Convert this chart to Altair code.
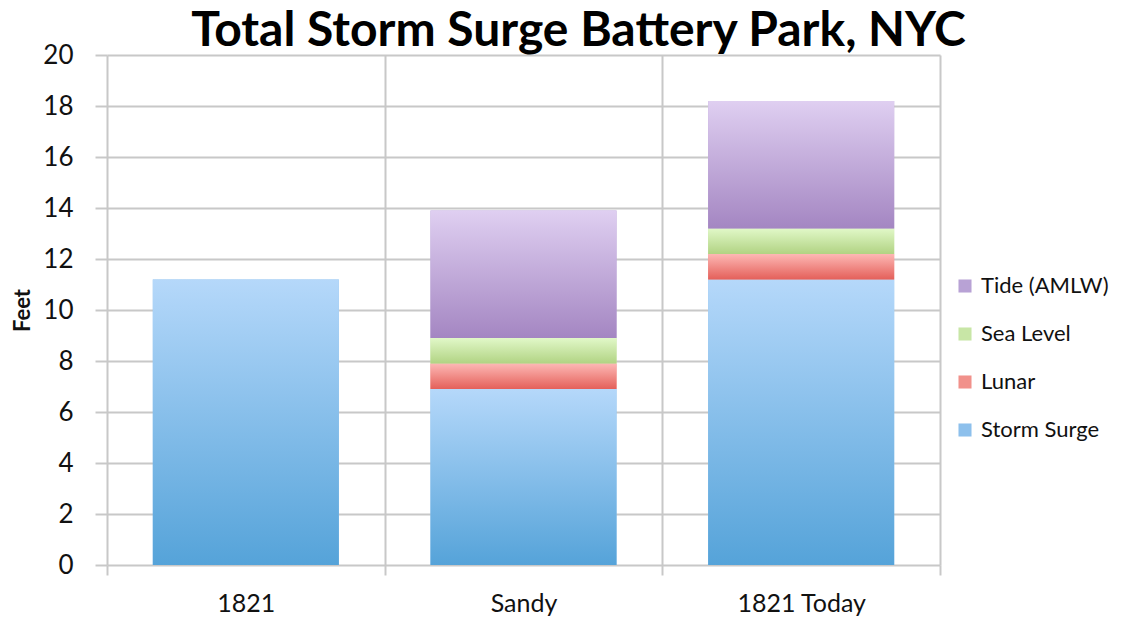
import altair as alt
import pandas as pd

categories = ["1821", "Sandy", "1821 Today"]
series_names = ["Storm Surge", "Lunar", "Sea Level", "Tide (AMLW)"]
storm_surge = [11.2, 6.9, 11.2]
lunar = [0.0, 1.0, 1.0]
sea_level = [0.0, 1.0, 1.0]
tide = [0.0, 5.0, 5.0]
y_ticks = [0, 2, 4, 6, 8, 10, 12, 14, 16, 18, 20]

values_by_series = [storm_surge, lunar, sea_level, tide]
rows = []
for order, (name, vals) in enumerate(zip(series_names, values_by_series)):
    for cat, v in zip(categories, vals):
        rows.append({"category": cat, "series": name, "value": v, "order": order})
df = pd.DataFrame(rows)

gradients = {
    "Storm Surge": ("#b5d8fa", "#55a3d9"),
    "Lunar": ("#fdb8b5", "#e4605a"),
    "Sea Level": ("#e1f8c8", "#b1d383"),
    "Tide (AMLW)": ("#dfcff1", "#a486c2"),
}
legend_domain = ["Tide (AMLW)", "Sea Level", "Lunar", "Storm Surge"]
legend_range = ["#b8a2d5", "#c8e6a6", "#f1918b", "#8dc0ec"]

GRID = "#c8c8c8"

x_enc = alt.X(
    "category:N",
    sort=categories,
    scale=alt.Scale(paddingInner=0, paddingOuter=0),
    axis=alt.Axis(
        title=None, labelAngle=0, labelFontSize=25, labelFont="Lato", labelColor="#111111",
        labelPadding=16, tickBand="extent", ticks=True, tickSize=10, tickColor=GRID,
        tickWidth=2, grid=True, gridColor=GRID, gridWidth=2, domain=False,
    ),
)

base = alt.Chart(df).transform_stack(
    stack="value", groupby=["category"], as_=["y0", "y1"], sort=[alt.SortField("order")]
)

y_enc = alt.Y(
    "y0:Q",
    scale=alt.Scale(domain=[0, 20], nice=False),
    axis=alt.Axis(
        values=y_ticks, title="Feet", titleFontSize=22, titleFont="Lato", titleFontWeight="bold",
        titleColor="#111111", titlePadding=8, labelFontSize=26, labelFont="Lato",
        labelColor="#111111", labelPadding=22, tickSize=12, tickColor=GRID, tickWidth=2,
        grid=True, gridColor=GRID, gridWidth=2, domain=False,
    ),
)

legend_layer = base.transform_filter("datum.value > 0").mark_bar(
    width=alt.RelativeBandSize(0.67)
).encode(
    x=x_enc,
    y=y_enc,
    y2="y1:Q",
    color=alt.Color(
        "series:N",
        scale=alt.Scale(domain=legend_domain, range=legend_range),
        legend=alt.Legend(
            title=None, orient="none", legendX=847, legendY=220, labelFontSize=22,
            labelFont="Lato", labelColor="#111111", symbolType="square", symbolSize=170,
            symbolStrokeWidth=0, rowPadding=26, labelOffset=5,
        ),
    ),
)

layers = [legend_layer]
for name in series_names:
    top, bottom = gradients[name]
    layers.append(
        base.transform_filter(f"datum.series == '{name}' && datum.value > 0")
        .mark_bar(
            width=alt.RelativeBandSize(0.67),
            color=alt.Gradient(
                gradient="linear",
                stops=[alt.GradientStop(color=top, offset=0), alt.GradientStop(color=bottom, offset=1)],
                x1=0, x2=0, y1=0, y2=1,
            ),
        )
        .encode(x=x_enc, y=alt.Y("y0:Q"), y2="y1:Q")
    )

chart = alt.layer(*layers).properties(
    width=833,
    height=510,
    autosize=alt.AutoSizeParams(type="none"),
    padding={"left": 99, "top": 47, "right": 186, "bottom": 52},
    title=alt.TitleParams(
        "Total Storm Surge Battery Park, NYC", fontSize=48, font="Lato", fontWeight="bold",
        color="black", anchor="middle", frame="group", dx=55, dy=20, offset=6,
    ),
).configure_view(strokeWidth=0)

chart.save("out.html", embed_options={"renderer": "svg", "actions": False})
